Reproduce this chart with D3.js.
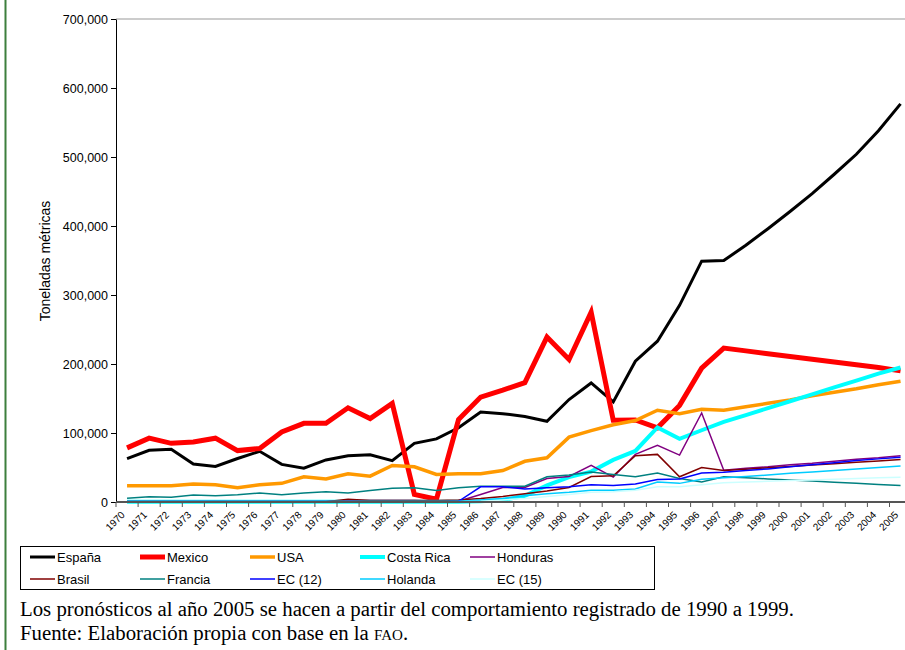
<!DOCTYPE html>
<html>
<head>
<meta charset="utf-8">
<script src="https://cdn.jsdelivr.net/npm/d3@7"></script>
<style>
  body { margin: 0; background: #fff; }
  svg { display: block; }
</style>
</head>
<body>
<svg width="905" height="650"></svg>
<script>
// years 1970 - 2005
let years = d3.range( 1970, 2006 );

// toneladas (miles)
let espana = [ 63, 75, 76.5, 55, 51.5, 63, 73.5, 54.5, 49, 61, 67, 68.5, 60, 85, 91.5, 107.5, 130.5, 128, 124, 117, 148.5, 172.5, 145, 204, 233, 285, 349, 350, 372, 396, 421, 447, 475, 504, 538, 577 ];
let mexico = [ 78.5, 92.5, 85, 87, 92.5, 74.5, 77.5, 101.5, 114, 114, 136.5, 121, 143, 11, 4, 119.5, 152, 162, 173, 239, 206.5, 275, 118.5, 119, 107.5, 140, 194, 223, 219, 215, 211, 207, 203, 199, 195, 190 ];
let usa = [ 23.5, 23.5, 23.5, 26, 25, 20.5, 25, 27, 36.5, 33.5, 41, 37.5, 53, 51, 40, 41, 41, 45.5, 59, 64, 94, 103.5, 112, 118, 133, 128, 134.5, 133, 138, 143, 148, 154, 159, 164, 170, 175 ];
let costaRica = [ 0.5, 0.5, 0.5, 0.5, 0.5, 0.5, 0.5, 0.5, 0.5, 0.5, 0.5, 0.5, 0.5, 0.5, 0.5, 0.5, 1, 3, 9, 24, 36, 44, 61, 74, 108, 91.5, 104, 116, 126, 136, 146, 156, 166, 176, 186, 195 ];
let honduras = [ 1, 1, 1, 1, 1, 1, 1, 1, 1, 1, 2, 2, 2, 2, 1, 1, 11, 21, 21, 34, 37, 53, 36, 69, 82, 68, 129, 46, 49, 51, 54, 56, 59, 62, 64, 67 ];
let brasil = [ 0.5, 0.5, 0.5, 0.5, 0.5, 0.5, 0.5, 0.5, 0.5, 0.5, 4, 2, 2, 2, 2, 3, 5, 8, 12, 16, 21, 37, 38, 67, 69, 36.5, 50, 45.5, 47.5, 49.5, 51.5, 53.5, 55.5, 57.5, 59.5, 61.5 ];
let francia = [ 5.5, 7.5, 7, 10, 9, 10.5, 13, 10.5, 13, 15, 13, 16.5, 20, 20.5, 16.5, 20.5, 23, 23, 23, 36.5, 39, 43.5, 40, 36.5, 42, 34, 29, 36.5, 35, 33.5, 32, 30.5, 28.5, 27, 25.5, 24 ];
let ec12 = [ 0, 0, 0, 0, 0, 0, 0, 0, 0, 0, 0, 0, 0, 0, 0, 1, 22, 22, 19, 20.5, 22, 25, 24, 26, 32.5, 33.5, 42, 43, 45.5, 48, 51, 54, 57, 60, 62.5, 65 ];
let holanda = [ 1, 1, 1, 1, 1, 1, 1, 1, 1, 1, 1, 1, 1, 1, 1, 1, 3, 5, 9, 12, 14, 17, 17, 19, 29, 27, 33, 35, 37, 39, 41.5, 43.5, 45.5, 48, 50, 52 ];
let ec15 = [ 0.5, 0.5, 0.5, 0.5, 0.5, 0.5, 0.5, 0.5, 0.5, 0.5, 0.5, 0.5, 0.5, 0.5, 0.5, 0.5, 1, 3, 5, 8, 11, 14, 15, 17, 22, 22, 25, 28, 29, 30, 31, 32, 33, 34, 35, 36 ];

let yTicks = [ 0, 100000, 200000, 300000, 400000, 500000, 600000, 700000 ];

let series = [
    { name: "España", values: espana, color: "#000000", w: 3 },
    { name: "Mexico", values: mexico, color: "#FF0000", w: 5 },
    { name: "USA", values: usa, color: "#FF9900", w: 3.5 },
    { name: "Costa Rica", values: costaRica, color: "#00FFFF", w: 4 },
    { name: "Honduras", values: honduras, color: "#800080", w: 1.5 },
    { name: "Brasil", values: brasil, color: "#800000", w: 1.5 },
    { name: "Francia", values: francia, color: "#008080", w: 1.5 },
    { name: "EC (12)", values: ec12, color: "#0000FF", w: 1.5 },
    { name: "Holanda", values: holanda, color: "#00CCFF", w: 1.5 },
    { name: "EC (15)", values: ec15, color: "#CCFFFF", w: 1.5 }
];

let svg = d3.select( "svg" );

// left green rule
svg.append( "line" ).attr( "x1", 5.5 ).attr( "x2", 5.5 ).attr( "y1", 0 ).attr( "y2", 650 )
    .attr( "stroke", "#3d7f3d" ).attr( "stroke-width", 2 );

let pLeft = 116, pRight = 911.6, pTop = 19, pBottom = 502;

let x = d3.scaleBand().domain( years ).range( [ pLeft, pRight ] );
let y = d3.scaleLinear().domain( [ 0, 700000 ] ).range( [ pBottom, pTop ] );
let cx = function ( yr ) { return x( yr ) + x.bandwidth() / 2; };

// top gridline
svg.append( "line" ).attr( "x1", pLeft ).attr( "x2", 905 ).attr( "y1", y( 700000 ) ).attr( "y2", y( 700000 ) )
    .attr( "stroke", "#999" ).attr( "stroke-width", 1 );

// y axis
let yAxis = svg.append( "g" ).attr( "transform", "translate(" + pLeft + ",0)" )
    .call( d3.axisLeft( y ).tickValues( yTicks ).tickFormat( d3.format( "," ) ).tickSize( 5 ).tickSizeOuter( 0 ) );
yAxis.select( ".domain" ).attr( "stroke", "#000" );
yAxis.selectAll( "text" ).attr( "font-family", "Liberation Sans, Arial, sans-serif" ).attr( "font-size", 12.5 ).attr( "fill", "#000" ).attr( "x", -8 );

svg.append( "text" ).attr( "transform", "translate(50,261) rotate(-90)" ).attr( "text-anchor", "middle" )
    .attr( "font-family", "Liberation Sans, Arial, sans-serif" ).attr( "font-size", 14 ).text( "Toneladas métricas" );

// lines
let line = d3.line().x( function ( d, i ) { return cx( years[ i ] ); } ).y( function ( d ) { return y( d * 1000 ); } );
svg.selectAll( ".serie" ).data( series ).enter().append( "path" ).attr( "class", "serie" )
    .attr( "d", function ( d ) { return line( d.values ); } )
    .attr( "fill", "none" ).attr( "stroke", function ( d ) { return d.color; } )
    .attr( "stroke-width", function ( d ) { return d.w; } ).attr( "stroke-linejoin", "miter" );

// x axis (ticks between categories)
svg.append( "line" ).attr( "x1", pLeft ).attr( "x2", 905 ).attr( "y1", pBottom ).attr( "y2", pBottom )
    .attr( "stroke", "#555" ).attr( "stroke-width", 2 );
svg.selectAll( ".xt" ).data( years.concat( [ 2006 ] ) ).enter().append( "line" )
    .attr( "x1", function ( d, i ) { return pLeft + i * x.step(); } ).attr( "x2", function ( d, i ) { return pLeft + i * x.step(); } )
    .attr( "y1", pBottom ).attr( "y2", pBottom + 5 ).attr( "stroke", "#555" );
svg.selectAll( ".xl" ).data( years ).enter().append( "text" )
    .attr( "transform", function ( d ) { return "translate(" + ( cx( d ) - 4 ) + "," + ( pBottom + 11 ) + ") rotate(-45)"; } )
    .attr( "text-anchor", "end" ).attr( "dy", "0.35em" )
    .attr( "font-family", "Liberation Sans, Arial, sans-serif" ).attr( "font-size", 10 ).text( function ( d ) { return d; } );

// legend
let lg = svg.append( "g" );
lg.append( "rect" ).attr( "x", 20.5 ).attr( "y", 546.5 ).attr( "width", 634 ).attr( "height", 43 )
    .attr( "fill", "#fff" ).attr( "stroke", "#000" );
let item = lg.selectAll( ".it" ).data( series ).enter().append( "g" )
    .attr( "transform", function ( d, i ) { return "translate(" + ( 30 + ( i % 5 ) * 110 ) + "," + ( i < 5 ? 557 : 579 ) + ")"; } );
item.append( "line" ).attr( "x1", 0 ).attr( "x2", 25 ).attr( "stroke", function ( d ) { return d.color; } )
    .attr( "stroke-width", function ( d ) { return d.w; } );
item.append( "text" ).attr( "x", 27 ).attr( "dy", "0.35em" ).attr( "font-family", "Liberation Sans, Arial, sans-serif" )
    .attr( "font-size", 13 ).text( function ( d ) { return d.name; } );

// notes
let note = svg.append( "g" ).attr( "font-family", "Liberation Serif, Times New Roman, serif" ).attr( "font-size", 20.8 );
note.append( "text" ).attr( "x", 20 ).attr( "y", 616 ).text( "Los pronósticos al año 2005 se hacen a partir del comportamiento registrado de 1990 a 1999." );
let f = note.append( "text" ).attr( "x", 20 ).attr( "y", 640 );
f.append( "tspan" ).text( "Fuente: Elaboración propia con base en la " );
f.append( "tspan" ).attr( "font-size", 15 ).text( "FAO" );
f.append( "tspan" ).text( "." );
</script>
</body>
</html>
